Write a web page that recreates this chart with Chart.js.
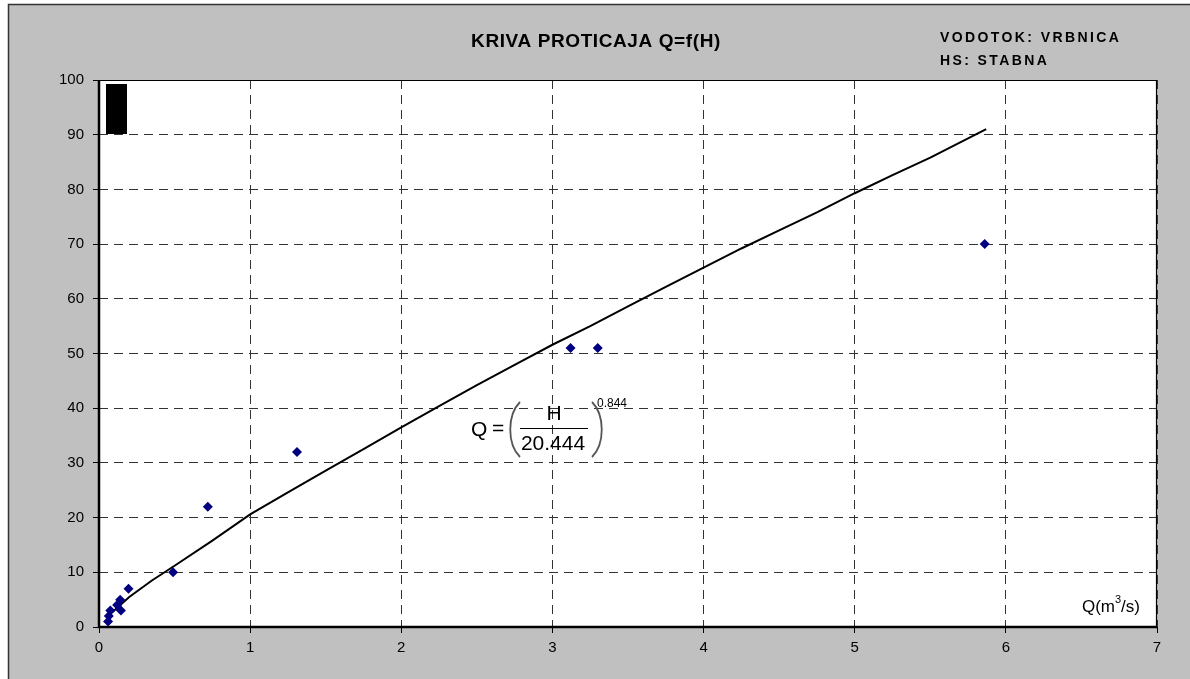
<!DOCTYPE html>
<html>
<head>
<meta charset="utf-8">
<script src="https://cdn.jsdelivr.net/npm/chart.js@4.4.0/dist/chart.umd.min.js"></script>
<style>
  html, body { margin: 0; padding: 0; background: #ffffff; }
  #wrap { width: 1190px; height: 679px; }
</style>
</head>
<body>
<div id="wrap"><canvas id="chartQH" width="1190" height="679"></canvas></div>
<script>
// Izmjereni podaci (Q u m3/s, H u cm)
const qMjereno = [0.06, 0.065, 0.075, 0.12, 0.14, 0.145, 0.195, 0.49, 0.72, 1.31, 3.12, 3.30, 5.86];
const hMjereno = [1, 2, 3, 4, 5, 3, 7, 10, 22, 32, 51, 51, 70];

// Kriva proticaja ocitana sa slike
const qKriva = [0.06, 0.2, 0.35, 0.5, 0.75, 1.0, 1.25, 1.5, 1.75, 2.0, 2.25, 2.5, 2.75, 3.0, 3.25, 3.5, 3.75, 4.0, 4.25, 4.5, 4.75, 5.0, 5.25, 5.5, 5.87];
const hKriva = [2.0, 5.5, 8.5, 11.2, 15.8, 20.6, 24.6, 28.6, 32.5, 36.5, 40.4, 44.2, 47.9, 51.6, 55.0, 58.6, 62.2, 65.7, 69.2, 72.5, 75.8, 79.3, 82.6, 85.8, 91.0];

const xMin = 0, xMax = 7, xKorak = 1;
const yMin = 0, yMax = 100, yKorak = 10;

const naslov = 'KRIVA PROTICAJA Q=f(H)';
const vodotok = 'VODOTOK: VRBNICA';
const stanica = 'HS: STABNA';

const FONT = '"Liberation Sans", Arial, sans-serif';

// pozadina, okvir, tekstovi i jednacina
const ukrasi = {
    id: 'ukrasi',
    beforeDraw(chart) {
        const ctx = chart.ctx;
        ctx.save();
        ctx.fillStyle = '#ffffff';
        ctx.fillRect(0, 0, chart.width, chart.height);
        ctx.fillStyle = '#c0c0c0';
        ctx.fillRect(8, 4, chart.width - 8, chart.height - 4);
        ctx.strokeStyle = '#333333';
        ctx.lineWidth = 1.5;
        ctx.beginPath();
        ctx.moveTo(8.5, chart.height);
        ctx.lineTo(8.5, 4.5);
        ctx.lineTo(chart.width, 4.5);
        ctx.stroke();
        const a = chart.chartArea;
        ctx.fillStyle = '#ffffff';
        ctx.fillRect(a.left, a.top, a.right - a.left, a.bottom - a.top);
        ctx.restore();
    },
    afterDatasetsDraw(chart) {
        const ctx = chart.ctx;
        const a = chart.chartArea;
        ctx.save();
        // okvir podrucja crtanja
        ctx.strokeStyle = '#000000';
        ctx.lineWidth = 1.2;
        ctx.beginPath();
        ctx.moveTo(a.left, a.top + 0.5);
        ctx.lineTo(a.right - 0.5, a.top + 0.5);
        ctx.lineTo(a.right - 0.5, a.bottom);
        ctx.stroke();
        ctx.lineWidth = 2.5;
        ctx.beginPath();
        ctx.moveTo(a.left, a.top);
        ctx.lineTo(a.left, a.bottom);
        ctx.lineTo(a.right, a.bottom);
        ctx.stroke();

        // crni pravougaonik gore lijevo
        ctx.fillStyle = '#000000';
        ctx.fillRect(a.left + 7, a.top + 4, 21, 50);

        // naslovi
        ctx.fillStyle = '#000000';
        ctx.textBaseline = 'middle';
        ctx.font = 'bold 19px ' + FONT;
        ctx.textAlign = 'center';
        ctx.letterSpacing = '0.6px';
        ctx.fillText(naslov, 596, 42);
        ctx.font = 'bold 14px ' + FONT;
        ctx.textAlign = 'left';
        ctx.letterSpacing = '2.4px';
        ctx.fillText(vodotok, 940, 38);
        ctx.fillText(stanica, 940, 61);
        ctx.letterSpacing = '0px';

        // jedinica na x osi
        ctx.font = '17px ' + FONT;
        ctx.textAlign = 'right';
        ctx.fillText('Q(m', 1115, 607);
        ctx.font = '11px ' + FONT;
        ctx.textAlign = 'left';
        ctx.fillText('3', 1115, 600);
        ctx.font = '17px ' + FONT;
        ctx.fillText('/s)', 1121, 607);

        // jednacina krive
        ctx.font = '21px ' + FONT;
        ctx.textAlign = 'left';
        ctx.fillText('Q', 471, 430);
        ctx.fillText('=', 492, 429);
        ctx.textAlign = 'center';
        ctx.fillText('H', 554, 414);
        ctx.fillText('20.444', 553, 444);
        ctx.lineWidth = 1.2;
        ctx.beginPath();
        ctx.moveTo(520, 428.5);
        ctx.lineTo(588, 428.5);
        ctx.stroke();
        // zagrade
        ctx.lineWidth = 1.8;
        ctx.strokeStyle = '#555555';
        ctx.beginPath();
        ctx.moveTo(520, 402);
        ctx.bezierCurveTo(507, 415, 507, 444, 520, 457);
        ctx.stroke();
        ctx.beginPath();
        ctx.moveTo(592, 402);
        ctx.bezierCurveTo(605, 415, 605, 444, 592, 457);
        ctx.stroke();
        ctx.font = '12px ' + FONT;
        ctx.textAlign = 'left';
        ctx.fillText('0.844', 597, 404);
        ctx.restore();
    }
};

function osaX(scale) { scale.height = 52; }
function osaY(scale) { scale.width = 91; }

const ctxQH = document.getElementById('chartQH').getContext('2d');
new Chart(ctxQH, {
    type: 'scatter',
    data: {
        datasets: [
            {
                label: 'Mjerenja',
                data: qMjereno.map((q, i) => ({ x: q, y: hMjereno[i] })),
                pointStyle: 'rectRot',
                pointRadius: 5,
                pointBackgroundColor: '#000080',
                pointBorderColor: '#000080',
                pointBorderWidth: 0,
                showLine: false,
                order: 1
            },
            {
                label: 'Kriva',
                data: qKriva.map((q, i) => ({ x: q, y: hKriva[i] })),
                showLine: true,
                borderColor: '#000000',
                borderWidth: 2,
                pointRadius: 0,
                tension: 0,
                fill: false,
                order: 2
            }
        ]
    },
    options: {
        responsive: false,
        animation: false,
        devicePixelRatio: 1,
        layout: { padding: { left: 8, right: 33, top: 80, bottom: 0 } },
        plugins: {
            legend: { display: false },
            tooltip: { enabled: false },
            title: { display: false }
        },
        scales: {
            x: {
                type: 'linear',
                min: xMin, max: xMax,
                afterFit: osaX,
                ticks: { stepSize: xKorak, color: '#000000', font: { family: FONT, size: 15 }, padding: 6 },
                grid: {
                    color: '#333333', lineWidth: 1, tickLength: 6,
                    tickColor: '#000000', tickBorderDash: [], drawTicks: true
                },
                border: { display: false, dash: [9, 6] }
            },
            y: {
                type: 'linear',
                min: yMin, max: yMax,
                afterFit: osaY,
                ticks: { stepSize: yKorak, color: '#000000', font: { family: FONT, size: 15 }, padding: 9 },
                grid: {
                    color: '#333333', lineWidth: 1, tickLength: 6,
                    tickColor: '#000000', tickBorderDash: [], drawTicks: true
                },
                border: { display: false, dash: [9, 6] }
            }
        }
    },
    plugins: [ukrasi]
});
</script>
</body>
</html>
